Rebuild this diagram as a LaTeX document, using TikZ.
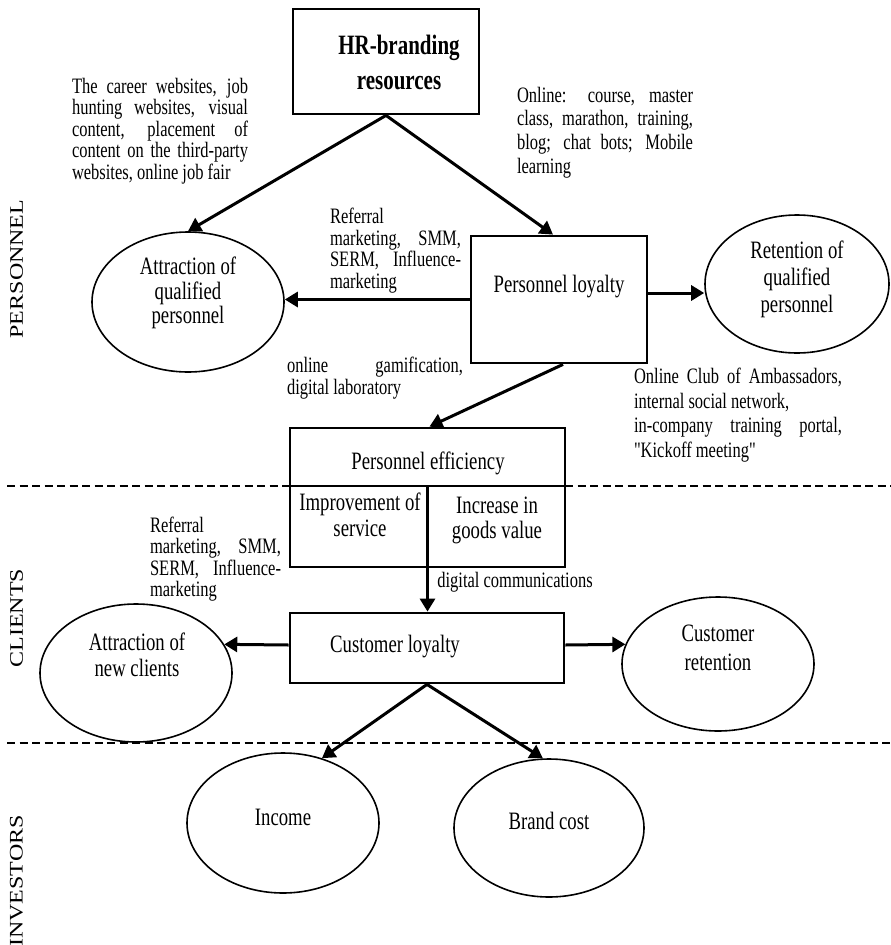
\documentclass[tikz,border=0pt]{standalone}
\usepackage{fontspec}
\setmainfont{Liberation Serif}[FakeStretch=0.75, Ligatures=TeXOff]
\newfontfamily\sidefont{Liberation Serif}
\usetikzlibrary{arrows.meta,shapes.geometric,calc}

% one justified line of a note block
\newcommand\jline[2]{\makebox[#1][s]{#2}}

\tikzset{
  box/.style={draw, line width=2.8pt, rectangle, inner sep=0pt, fill=white},
  oval/.style={draw, line width=1.6pt, ellipse, inner sep=0pt},
  maintext/.style={font=\fontsize{25}{24.5}\selectfont, align=center, inner sep=0pt},
  note/.style={font=\fontsize{22}{21.5}\selectfont, align=left, inner sep=0pt},
  link/.style={line width=3pt, -{Triangle[length=13pt,width=15pt]}},
  divider/.style={line width=1.6pt, dash pattern=on 8pt off 4.5pt},
  side/.style={font=\sidefont\fontsize{24}{24}\selectfont, rotate=90, inner sep=0pt},
}

\begin{document}
\begin{tikzpicture}[x=1pt, y=-1pt]
\useasboundingbox (0,0) rectangle (891,945);

% section separators
\coordinate (sepAL) at (7,486);
\coordinate (sepAR) at (891,486);
\coordinate (sepBL) at (7,743);
\coordinate (sepBR) at (891,743);

% section labels
\node[side] (lblpers) at (16.5,269) {\scalebox{1}[0.8]{PERSONNEL}};
\node[side] (lblcli) at (16.5,618) {\scalebox{1}[0.8]{CLIENTS}};
\node[side] (lblinv) at (16.5,881) {\scalebox{1}[0.8]{INVESTORS}};

% HR-branding resources
\node[box, minimum width=186pt, minimum height=105pt] (hr) at (386,61.5) {};
\node[font=\fontsize{28}{35}\selectfont\bfseries, align=center, inner sep=0pt] (hrtext) at (399,62) {HR-branding\\resources};

% personnel level
\node[box, minimum width=176pt, minimum height=127pt] (pl) at (559,299.5) {};
\node[maintext] (pltext) at (559,287) {Personnel loyalty};

\node[oval, minimum width=192pt, minimum height=140pt] (aq) at (188,302) {};
\node[maintext] (aqtext) at (188,293) {Attraction of\\qualified\\personnel};

\node[oval, minimum width=184pt, minimum height=138pt] (rq) at (797,284) {};
\node[maintext, font=\fontsize{25}{27}\selectfont] (rqtext) at (797,279) {Retention of\\qualified\\personnel};

% personnel efficiency block
\node[box, minimum width=275pt, minimum height=139pt] (eff) at (427.5,497.5) {};
\coordinate (effdivL) at (290,486);
\coordinate (effdivR) at (565,486);
\coordinate (effdivM) at (427.5,486);
\draw[line width=2.8pt] (effdivL) -- (effdivR);
\draw[line width=2.8pt] (effdivM) -- (eff.south);
\node[maintext] (efftext) at (428,463) {Personnel efficiency};
\node[maintext, font=\fontsize{25}{26}\selectfont] (imptext) at (360,515) {Improvement of\\service};
\node[maintext, font=\fontsize{25}{25}\selectfont] (inctext) at (497,520.5) {Increase in\\goods value};

\draw[divider] (sepAL) -- (effdivL);
\draw[divider] (effdivR) -- (sepAR);

% clients level
\node[box, minimum width=274pt, minimum height=70pt] (cl) at (427,648) {};
\node[maintext] (cltext) at (395,647) {Customer loyalty};

\node[oval, minimum width=192pt, minimum height=138pt] (an) at (136,673) {};
\node[maintext, font=\fontsize{25}{26}\selectfont] (antext) at (137,655) {Attraction of\\new clients};

\node[oval, minimum width=192pt, minimum height=134pt] (cr) at (718,664) {};
\node[maintext, font=\fontsize{25}{29}\selectfont] (crtext) at (718,647.5) {Customer\\retention};

\draw[divider] (sepBL) -- (sepBR);

% investors level
\node[oval, minimum width=192pt, minimum height=140pt] (inc) at (283,823) {};
\node[maintext] (inctxt) at (283,817) {Income};

\node[oval, minimum width=190pt, minimum height=138pt] (bc) at (549,828) {};
\node[maintext] (bctext) at (549,821) {Brand cost};

% notes
\node[note] (noteA) at (160,131) {%
  \jline{176pt}{The career websites, job}\\
  \jline{176pt}{hunting websites, visual}\\
  \jline{176pt}{content, placement of}\\
  \jline{176pt}{content on the third-party}\\
  websites, online job fair};

\node[note, font=\fontsize{22}{23.7}\selectfont] (noteB) at (605,132.5) {%
  \jline{176pt}{Online: course, master}\\
  \jline{176pt}{class, marathon, training,}\\
  \jline{176pt}{blog; chat bots; Mobile}\\
  learning\hspace*{\fill}};

\node[note] (noteC) at (395.5,250.5) {%
  Referral\hspace*{\fill}\\
  \jline{131pt}{marketing, SMM,}\\
  \jline{131pt}{SERM, Influence-}\\
  marketing\hspace*{\fill}};

\node[note] (noteD) at (375,378) {%
  \jline{176pt}{online gamification,}\\
  digital laboratory\hspace*{\fill}};

\node[note, font=\fontsize{22}{24.7}\selectfont] (noteE) at (738,415) {%
  \jline{208pt}{Online Club of Ambassadors,}\\
  internal social network,\hspace*{\fill}\\
  \jline{208pt}{in-company training portal,}\\
  "Kickoff meeting"\hspace*{\fill}};

\node[note] (noteF) at (515,582) {digital communications};

\node[note] (noteG) at (215.5,559) {%
  Referral\hspace*{\fill}\\
  \jline{131pt}{marketing, SMM,}\\
  \jline{131pt}{SERM, Influence-}\\
  marketing\hspace*{\fill}};

% connectors
\coordinate (plr) at ([yshift=6.5pt]pl.east);
\coordinate (cll) at ([yshift=3pt]cl.west);
\coordinate (clr) at ([yshift=3pt]cl.east);

\draw[link] (hr.south) -- (aq.north);
\draw[link] (hr.south) -- ([xshift=-6pt]pl.north);
\draw[link] (pl.west) -- (pl.west -| aq.east);
\draw[link] (plr) -- (plr -| rq.west);
\draw[link] ([xshift=4pt]pl.south) -- ([xshift=2pt]eff.north);
\draw[link] (eff.south) -- (eff.south |- cl.north);
\draw[link] (cll) -- (an.18);
\draw[link] (clr) -- (cr.168);
\draw[link] (cl.south) -- (inc.59);
\draw[link] (cl.south) -- (bc.95);
\end{tikzpicture}
\end{document}
